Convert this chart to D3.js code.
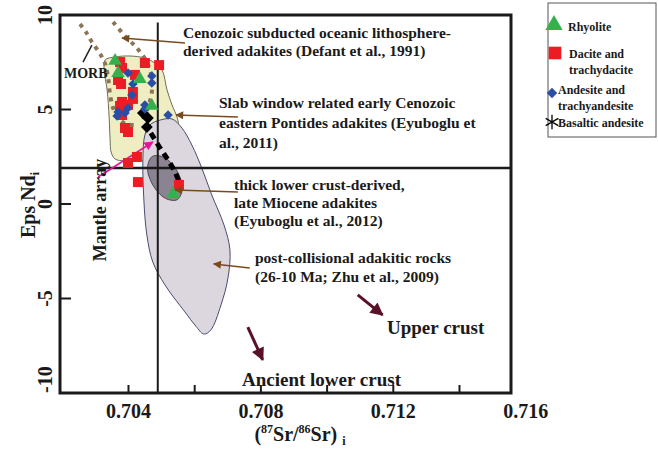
<!DOCTYPE html>
<html><head><meta charset="utf-8">
<script src="https://cdn.jsdelivr.net/npm/d3@7"></script>
<style>
body{margin:0;background:#fff;}
svg text{font-family:"Liberation Serif","Times New Roman",serif;font-weight:bold;fill:#1a1a1a;}
</style></head><body>
<svg id="chart" width="658" height="451"></svg>
<script>
// Axis ticks
const xTickMarks = [0.704, 0.706, 0.708, 0.710, 0.712, 0.714];
const xTickLabels = [0.704, 0.708, 0.712, 0.716];
const yTickMarks = [5, 0, -5];
const yTickLabels = [10, 5, 0, -5, -10];

// Reference lines
const bulkEarthSr = 0.7049;
const bulkEarthNd = 1.9;

// Samples: [87Sr/86Sr, eNd]
const rhyolite = [[0.70361,7.57],[0.70370,6.93],[0.70436,6.61],[0.70472,5.19],[0.70536,0.53]];
const dacite = [[0.70376,7.51],[0.70382,7.20],[0.70451,7.46],[0.70494,7.35],[0.70370,6.56],[0.70379,6.35],
  [0.70421,6.83],[0.70415,5.93],[0.70415,5.56],[0.70382,5.40],[0.70376,5.19],[0.70400,5.24],[0.70382,4.71],
  [0.70391,4.02],[0.70400,3.81],[0.70427,2.49],[0.70400,2.17],[0.70430,1.16],[0.70554,1.01]];
const andesite = [[0.70400,6.93],[0.70472,6.77],[0.70472,6.40],[0.70415,6.35],[0.70412,5.77],[0.70400,5.08],
  [0.70451,5.24],[0.70451,5.03],[0.70370,4.87],[0.70367,4.66],[0.70391,4.81],[0.70521,4.71]];
const basalticAndesite = [];

// Fields
const slabWindowField = [[0.70331,7.62],[0.70361,7.78],[0.70406,7.83],[0.70451,7.72],[0.70481,7.46],[0.70503,7.09],
  [0.70518,6.03],[0.70533,5.24],[0.70548,4.60],[0.70551,4.18],[0.70512,3.65],[0.70466,2.86],[0.70451,2.33],
  [0.70391,2.28],[0.70361,2.38],[0.70349,2.75],[0.70346,3.39],[0.70343,4.60],[0.70337,6.03],[0.70328,7.09]];
const postCollisionalField = [[0.70451,3.65],[0.70466,4.18],[0.70497,4.44],[0.70533,4.50],[0.70563,4.02],[0.70593,3.12],
  [0.70623,1.90],[0.70653,0.48],[0.70690,-1.11],[0.70708,-2.43],[0.70702,-3.92],[0.70681,-5.34],[0.70650,-6.67],
  [0.70629,-6.88],[0.70605,-6.46],[0.70572,-5.71],[0.70512,-4.29],[0.70475,-3.07],[0.70457,-1.64],[0.70448,0.21],[0.70445,2.33]];
const lowerCrustField = [[0.70549,0.23],[0.70564,0.83],[0.70548,1.75],[0.70511,2.45],[0.70474,2.52],[0.70459,1.93],[0.70475,1.01],[0.70513,0.30]];

// Field boundaries (dotted) and mixing trend
const morbBoundary = [[0.70255,9.52],[0.70273,9.10],[0.70291,8.57],[0.70316,7.94],[0.70331,7.41],[0.70340,6.67],
  [0.70346,5.77],[0.70355,5.08],[0.70370,4.55],[0.70394,4.23],[0.70424,4.18]];
const slabBoundary = [[0.70355,9.63],[0.70391,8.89],[0.70427,8.25],[0.70457,7.51],[0.70472,6.67],[0.70472,5.93],
  [0.70460,5.08],[0.70442,4.34]];
const mixingTrend = [[0.70469,3.76],[0.70497,2.96],[0.70521,2.33],[0.70542,1.69],[0.70557,1.06]];
const mixingNodes = [[0.70445,4.81],[0.70460,4.55],[0.70457,4.07]];

// Annotation arrows: [from, to]
const leaderArrows = [
  [[0.70572,8.52],[0.70382,8.78]],
  [[0.70732,4.60],[0.70545,4.71]],
  [[0.70732,0.63],[0.70542,0.74]],
  [[0.70768,-3.39],[0.70659,-3.17]]
];
const crustArrows = [
  [[0.71094,-4.81],[0.71169,-5.87]],
  [[0.70762,-6.51],[0.70807,-8.25]]
];
const mantleArrow = [[0.70310,1.43],[0.70475,3.28]];
const morbLeader = [[0.70264,7.51],[0.70291,8.41]];

const svg = d3.select("#chart");
const L = 60, R = 511, T = 15, B = 393;
const x = d3.scaleLinear().domain([0.701946, 0.715571]).range([L, R]);
const y = d3.scaleLinear().domain([-10, 10]).range([B, T]);

const defs = svg.append("defs");
function arrowMarker(id, color, w, h) {
  defs.append("marker").attr("id", id).attr("viewBox", "0 0 10 10").attr("refX", 9).attr("refY", 5)
    .attr("markerWidth", w).attr("markerHeight", h).attr("markerUnits", "userSpaceOnUse").attr("orient", "auto")
    .append("path").attr("d", "M0,0 L10,5 L0,10 z").attr("fill", color);
}
arrowMarker("ah-brown", "#7a4a1f", 10, 8);
arrowMarker("ah-maroon", "#5a1026", 14, 13);
arrowMarker("ah-pink", "#e8139a", 10, 9);

const closed = d3.line().x(d => x(d[0])).y(d => y(d[1])).curve(d3.curveCatmullRomClosed.alpha(0.5));
const open = d3.line().x(d => x(d[0])).y(d => y(d[1])).curve(d3.curveCatmullRom.alpha(0.5));
const straight = d3.line().x(d => x(d[0])).y(d => y(d[1]));

// Fields
svg.append("path").attr("d", closed(slabWindowField)).attr("fill", "#efeec3").attr("stroke", "#6e6c55").attr("stroke-width", 1);
svg.append("path").attr("d", closed(postCollisionalField)).attr("fill", "#dcd7de").attr("stroke", "#4c4b6e").attr("stroke-width", 1);
svg.append("path").attr("d", closed(lowerCrustField)).attr("fill", "#8b8391").attr("stroke", "#4a4550").attr("stroke-width", 1);

// Dotted boundaries
[morbBoundary, slabBoundary].forEach(b => {
  svg.append("path").attr("d", open(b)).attr("fill", "none").attr("stroke", "#8c7458")
    .attr("stroke-width", 4).attr("stroke-dasharray", "4,5");
});

// Reference lines
svg.append("line").attr("x1", x(bulkEarthSr)).attr("x2", x(bulkEarthSr)).attr("y1", y(9.6)).attr("y2", B)
  .attr("stroke", "#1a1a1a").attr("stroke-width", 2);
svg.append("line").attr("x1", L).attr("x2", R).attr("y1", y(bulkEarthNd)).attr("y2", y(bulkEarthNd))
  .attr("stroke", "#1a1a1a").attr("stroke-width", 2.5);

// Mixing trend
svg.append("path").attr("d", open(mixingTrend)).attr("fill", "none").attr("stroke", "#000")
  .attr("stroke-width", 5).attr("stroke-dasharray", "7,5");
svg.selectAll(".node").data(mixingNodes).enter().append("path")
  .attr("d", d3.symbol(d3.symbolSquare, 70)())
  .attr("transform", d => `translate(${x(d[0])},${y(d[1])}) rotate(45)`).attr("fill", "#000");

// Mantle array arrow
svg.append("path").attr("d", straight(mantleArrow)).attr("stroke", "#e8139a").attr("stroke-width", 1.6)
  .attr("fill", "none").attr("marker-end", "url(#ah-pink)");

// Samples
const sq = d3.symbol(d3.symbolSquare, 100)();
const tri = d3.symbol(d3.symbolTriangle, 80)();
const dia = d3.symbol(d3.symbolSquare, 45)();
svg.selectAll(".dac").data(dacite).enter().append("path").attr("d", sq)
  .attr("transform", d => `translate(${x(d[0])},${y(d[1])})`).attr("fill", "#ec1c24");
svg.selectAll(".and").data(andesite).enter().append("path").attr("d", dia)
  .attr("transform", d => `translate(${x(d[0])},${y(d[1])}) rotate(45)`).attr("fill", "#2a4ea6");
svg.selectAll(".rhy").data(rhyolite).enter().append("path").attr("d", tri)
  .attr("transform", d => `translate(${x(d[0])},${y(d[1])})`).attr("fill", "#34b14b");
const star = d3.symbol(d3.symbolAsterisk, 120)();
svg.selectAll(".bas").data(basalticAndesite).enter().append("path").attr("d", star)
  .attr("transform", d => `translate(${x(d[0])},${y(d[1])})`).attr("stroke", "#000").attr("fill", "none");

// Leader arrows
leaderArrows.forEach(a => svg.append("path").attr("d", straight(a)).attr("stroke", "#7a4a1f")
  .attr("stroke-width", 1.5).attr("fill", "none").attr("marker-end", "url(#ah-brown)"));
crustArrows.forEach(a => svg.append("path").attr("d", straight(a)).attr("stroke", "#5a1026")
  .attr("stroke-width", 3).attr("fill", "none").attr("marker-end", "url(#ah-maroon)"));
svg.append("path").attr("d", straight(morbLeader)).attr("stroke", "#222").attr("stroke-width", 1.5);

// Frame
svg.append("rect").attr("x", L).attr("y", T).attr("width", R - L).attr("height", B - T)
  .attr("fill", "none").attr("stroke", "#1a1a1a").attr("stroke-width", 3);

// X axis: inner ticks and labels
const xMarks = d3.axisBottom(x).tickValues(xTickMarks).tickSizeInner(-8).tickSizeOuter(0).tickFormat("");
const gx = svg.append("g").attr("transform", `translate(0,${B})`).call(xMarks);
gx.select(".domain").remove();
gx.selectAll("line").attr("stroke", "#1a1a1a").attr("stroke-width", 2);
const xLabels = d3.axisBottom(x).tickValues(xTickLabels).tickSize(0).tickPadding(11).tickFormat(d3.format(".3f"));
const gxl = svg.append("g").attr("transform", `translate(0,${B})`).call(xLabels);
gxl.select(".domain").remove();
gxl.selectAll("text").attr("font-size", 20).attr("font-family", "Liberation Serif").attr("font-weight", "bold").attr("fill", "#1a1a1a");

// Y axis: inner ticks and rotated labels
svg.selectAll(".ytick").data(yTickMarks).enter().append("line")
  .attr("x1", L).attr("x2", L + 11).attr("y1", d => y(d)).attr("y2", d => y(d))
  .attr("stroke", "#1a1a1a").attr("stroke-width", 2);
svg.selectAll(".ylab").data(yTickLabels).enter().append("text")
  .attr("transform", d => `translate(52,${y(d)}) rotate(-90)`)
  .attr("text-anchor", d => d === -10 ? "start" : "middle")
  .attr("font-size", 20).text(d => d);

// Axis titles
const xt = svg.append("text").attr("x", 300).attr("y", 441).attr("text-anchor", "middle").attr("font-size", 20);
xt.append("tspan").text("(");
xt.append("tspan").attr("font-size", 12).attr("dy", -8).text("87");
xt.append("tspan").attr("dy", 8).text("Sr/");
xt.append("tspan").attr("font-size", 12).attr("dy", -8).text("86");
xt.append("tspan").attr("dy", 8).text("Sr) ");
xt.append("tspan").attr("font-size", 12).attr("dy", 4).text("i");

const yt = svg.append("text").attr("transform", "translate(35,205) rotate(-90)").attr("text-anchor", "middle").attr("font-size", 20);
yt.append("tspan").text("Eps Nd");
yt.append("tspan").attr("font-size", 12).attr("dy", 4).text("i");

svg.append("text").attr("transform", "translate(106,210) rotate(-90)").attr("text-anchor", "middle")
  .attr("font-size", 18).text("Mantle array");

// Annotations
function block(lines, x0, y0, dy, size) {
  lines.forEach((t, i) => svg.append("text").attr("x", x0).attr("y", y0 + i * dy).attr("font-size", size).text(t));
}
block(["Cenozoic subducted oceanic lithosphere-", "derived adakites (Defant et al., 1991)"], 183, 38, 18, 15.5);
block(["Slab window related early Cenozoic", "eastern Pontides adakites (Eyuboglu et", "al., 2011)"], 219, 108, 20, 15.5);
block(["thick lower crust-derived,", "late Miocene adakites", "(Eyuboglu et al., 2012)"], 234, 190, 18, 15.5);
block(["post-collisional adakitic rocks", "(26-10 Ma; Zhu et al., 2009)"], 255, 263, 19, 15.5);
block(["MORB"], 64, 78, 0, 14);
block(["Upper crust"], 387, 334, 0, 19);
block(["Ancient lower crust"], 242, 386, 0, 19);

// Legend
const lg = svg.append("g");
lg.append("rect").attr("x", 548).attr("y", 3).attr("width", 108).attr("height", 134)
  .attr("fill", "#fff").attr("stroke", "#555").attr("stroke-width", 1);
lg.append("path").attr("d", d3.symbol(d3.symbolTriangle, 130)()).attr("transform", "translate(554,25)").attr("fill", "#34b14b");
lg.append("path").attr("d", d3.symbol(d3.symbolSquare, 160)()).attr("transform", "translate(555,53)").attr("fill", "#ec1c24");
lg.append("path").attr("d", d3.symbol(d3.symbolSquare, 55)()).attr("transform", "translate(552,93) rotate(45)").attr("fill", "#2a4ea6");
lg.append("path").attr("d", d3.symbol(d3.symbolAsterisk, 150)()).attr("transform", "translate(552,122)").attr("stroke", "#000").attr("stroke-width", 1.3).attr("fill", "none");
[["Rhyolite", 568, 31], ["Dacite and", 569, 58], ["trachydacite", 569, 74], ["Andesite and", 558, 94],
 ["trachyandesite", 558, 110], ["Basaltic andesite", 558, 127]].forEach(t =>
  lg.append("text").attr("x", t[1]).attr("y", t[2]).attr("font-size", 12).text(t[0]));
</script>
</body></html>
